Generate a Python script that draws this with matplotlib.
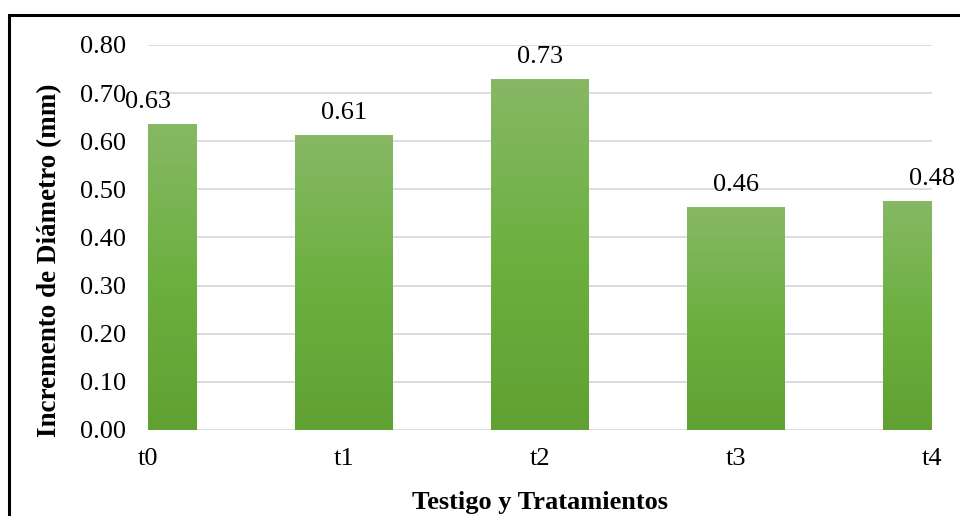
import numpy as np
import matplotlib.pyplot as plt
from matplotlib.colors import LinearSegmentedColormap
from matplotlib.patches import Rectangle

categories = ['t0', 't1', 't2', 't3', 't4']
values = [0.635, 0.612, 0.728, 0.462, 0.475]
value_labels = ['0.63', '0.61', '0.73', '0.46', '0.48']

plt.rcParams['font.family'] = ['Liberation Serif', 'DejaVu Serif']

fig = plt.figure(figsize=(9.6, 5.16), dpi=100)
ax = fig.add_axes([0.1542, 0.1667, 0.8166, 0.7461])

# green gradient, darker at the bottom
cmap = LinearSegmentedColormap.from_list('grn', ['#60a132', '#6cb040', '#87b865'])
grad = np.linspace(0, 1, 256).reshape(-1, 1)

x = np.arange(len(categories))
xmin, xmax = 0, len(categories) - 1
width = 0.5
for xi, v in zip(x, values):
    left = max(xi - width / 2, xmin)
    right = min(xi + width / 2, xmax)
    ax.imshow(grad, cmap=cmap, origin='lower', aspect='auto',
              extent=[left, right, 0, v], zorder=3)

for xi, v, lab in zip(x, values, value_labels):
    ax.text(xi, v + 0.024, lab, ha='center', va='bottom', fontsize=19)

ax.set_xlim(xmin, xmax)
ax.set_ylim(0, 0.8)
ticks = np.arange(0, 0.81, 0.1)
ax.set_yticks(ticks)
ax.set_yticklabels([f'{t:.2f}' for t in ticks], fontsize=19)
ax.set_xticks(x)
ax.set_xticklabels(categories, fontsize=19)
ax.tick_params(axis='y', length=0, pad=16)
ax.tick_params(axis='x', length=0, pad=13)
ax.grid(axis='y', color='#d9dde4', linewidth=1.4, zorder=0)
ax.set_axisbelow(True)
for s in ax.spines.values():
    s.set_visible(False)

ax.set_xlabel('Testigo y Tratamientos', fontsize=19, fontweight='bold', labelpad=15)
ax.set_ylabel('Incremento de Diámetro (mm)', fontsize=19.5, fontweight='bold', va='center')
ax.yaxis.set_label_coords(-0.125, 0.44)

# outer frame, runs off the right and bottom edges
fig.patches.append(Rectangle((9 / 960, -0.1), 1.2, 1 - 15 / 516 + 0.1,
                             transform=fig.transFigure, fill=False,
                             edgecolor='black', linewidth=2.2))

fig.savefig('out.png', dpi=100)
